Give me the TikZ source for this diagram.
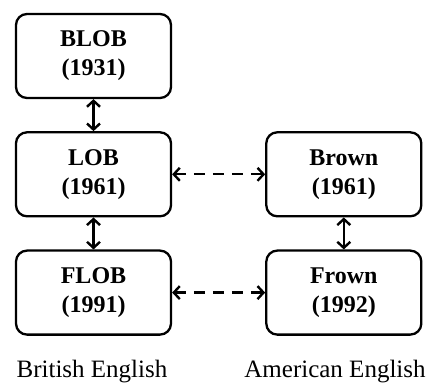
\documentclass[tikz,border=0pt]{standalone}
\usepackage{fontspec}
\setmainfont{Liberation Serif}
\usetikzlibrary{arrows.meta,positioning}
\tikzset{
  corpus/.style={draw,line width=2.3pt,rounded corners=11pt,align=center,font=\fontsize{24}{29}\selectfont\bfseries,minimum width=155pt,minimum height=84pt,inner sep=2pt},
  variety/.style={font=\fontsize{25}{28}\selectfont,inner sep=0pt},
  link/.style={{Straight Barb[length=6pt,width=13pt,line width=2.4pt]}-{Straight Barb[length=6pt,width=13pt,line width=2.4pt]},line width=2.4pt},
  cross/.style={link,dash pattern=on 11pt off 8pt},
}
\begin{document}
\begin{tikzpicture}[x=1pt,y=1pt,node distance=32pt and 93pt]
  \useasboundingbox (0,0) rectangle (427,385);
  \node[corpus] (blob) at (93.5,329) {BLOB\\(1931)};
  \node[corpus,below=of blob] (lob) {LOB\\(1961)};
  \node[corpus,below=of lob] (flob) {FLOB\\(1991)};
  \node[corpus,right=of lob] (brown) {Brown\\(1961)};
  \node[corpus,right=of flob] (frown) {Frown\\(1992)};
  \node[variety] (british) at (92,13) {British English};
  \node[variety] (american) at (335,13) {American English};
  \foreach \a/\b in {blob/lob,lob/flob,brown/frown} \draw[link] (\a) -- (\b);
  \draw[cross] (lob) -- (brown);
  \draw[cross] (flob) -- (frown);
\end{tikzpicture}
\end{document}
